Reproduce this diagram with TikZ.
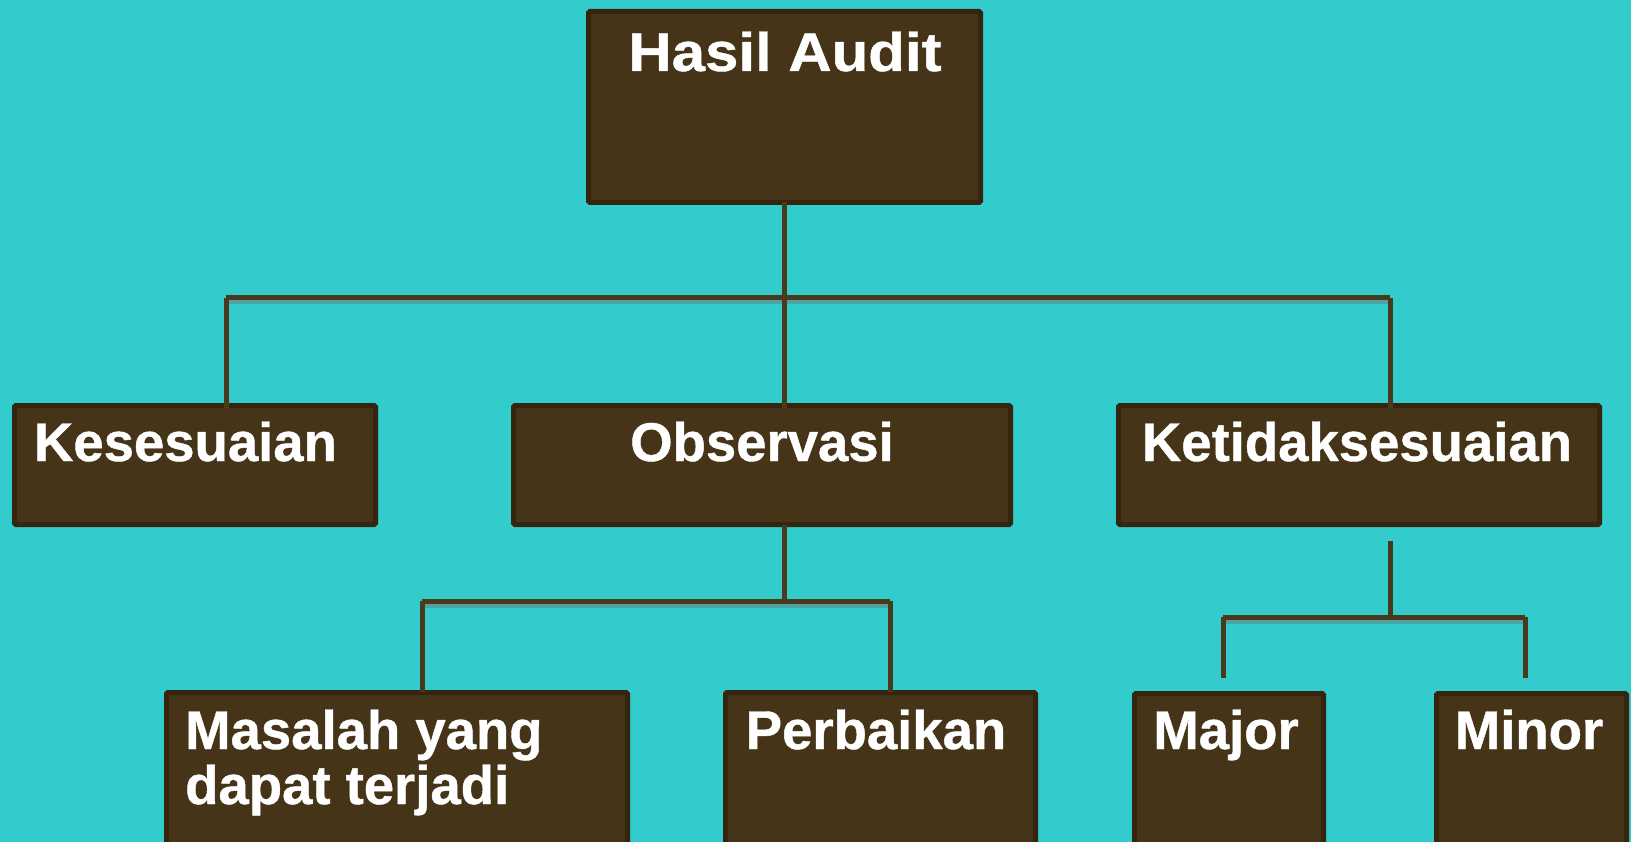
\documentclass[tikz,border=0pt]{standalone}
\usepackage{fontspec}
\usepackage{graphicx}
\setmainfont{Liberation Sans}
\newfontfamily\lblfont{Liberation Sans Bold}[FakeBold=0.8]
\definecolor{bg}{HTML}{33CCCC}
\definecolor{boxfill}{HTML}{453418}
\definecolor{boxline}{HTML}{35250F}
\definecolor{conn}{HTML}{4A3A1C}
\definecolor{shad}{HTML}{4FA3A3}
\tikzset{
  box/.style={draw=boxline, fill=boxfill, line width=5pt, rounded corners=1.5pt, inner sep=0pt, outer sep=0pt, anchor=north west},
  lbl/.style={text=white, font=\fontsize{54.5}{55}\selectfont\lblfont, inner sep=0pt},
  link/.style={draw=conn, line width=5pt},
  linkshadow/.style={draw=shad, line width=4pt}
}
\newcommand{\mkbox}[5]{% name, x1, y1, x2, y2 (outer)
  \node[box, minimum width={#4-#2-5}, minimum height={#5-#3-5}] (#1) at ({#2+2.5},{#3+2.5}) {};}
\begin{document}
\begin{tikzpicture}[x=1pt,y=-1pt]
\useasboundingbox (0,0) rectangle (1631,842);
\fill[bg] (0,0) rectangle (1631,842);
\clip (0,0) rectangle (1631,842);
% connectors (junction coordinates)
\coordinate (ja) at (784,298);
\coordinate (jl) at (226,298);
\coordinate (jr) at (1390,298);
\coordinate (el) at (226,408);
\coordinate (ec) at (784,408);
\coordinate (er) at (1390,408);
\coordinate (jo) at (784,601);
\coordinate (jol) at (422,601);
\coordinate (jor) at (890,601);
\coordinate (eol) at (422,692);
\coordinate (eor) at (890,692);
\coordinate (kt) at (1390,541);
\coordinate (jk) at (1390,617);
\coordinate (jkl) at (1223,617);
\coordinate (jkr) at (1525,617);
\coordinate (ekl) at (1223,678);
\coordinate (ekr) at (1525,678);
% boxes
\mkbox{hasil}{586}{9}{983}{205}
\mkbox{kes}{12}{403}{378}{527}
\mkbox{obs}{511}{403}{1013}{527}
\mkbox{ket}{1116}{403}{1602}{527}
\mkbox{mas}{164}{690}{630}{900}
\mkbox{per}{723}{690}{1038}{900}
\mkbox{maj}{1132}{691}{1326}{900}
\mkbox{min}{1434}{691}{1629}{900}
% shadows
\path[linkshadow] ([yshift=-4.5pt]jl) -- ([yshift=-4.5pt]jr);
\path[linkshadow] ([yshift=-4.5pt]jol) -- ([yshift=-4.5pt]jor);
\path[linkshadow] ([yshift=-4.5pt]jkl) -- ([yshift=-4.5pt]jkr);
% lines
\path[link] (hasil.south -| ja) -- (ec);
\path[link] (jl) -- (jr);
\path[link] (jl) -- (el);
\path[link] (jr) -- (er);
\path[link] (obs.south -| jo) -- (jo);
\path[link] (jol) -- (jor);
\path[link] (jol) -- (eol);
\path[link] (jor) -- (eor);
\path[link] (kt) -- (jk);
\path[link] (jkl) -- (jkr);
\path[link] (jkl) -- (ekl);
\path[link] (jkr) -- (ekr);
% labels
\node[lbl, anchor=base] (thasil) at (785,71) {\scalebox{1.1}[1]{Hasil Audit}};
\node[lbl, anchor=base] (tkes) at (185.5,461) {Kesesuaian};
\node[lbl, anchor=base] (tobs) at (762,461) {Observasi};
\node[lbl, anchor=base] (tket) at (1357,461) {Ketidaksesuaian};
\node[lbl, anchor=base west] (tmas1) at (185,749) {Masalah yang};
\node[lbl, anchor=base west] (tmas2) at (185,804) {dapat terjadi};
\node[lbl, anchor=base] (tper) at (876,749) {Perbaikan};
\node[lbl, anchor=base] (tmaj) at (1226,749) {Major};
\node[lbl, anchor=base] (tmin) at (1529,749) {Minor};
\end{tikzpicture}
\end{document}
